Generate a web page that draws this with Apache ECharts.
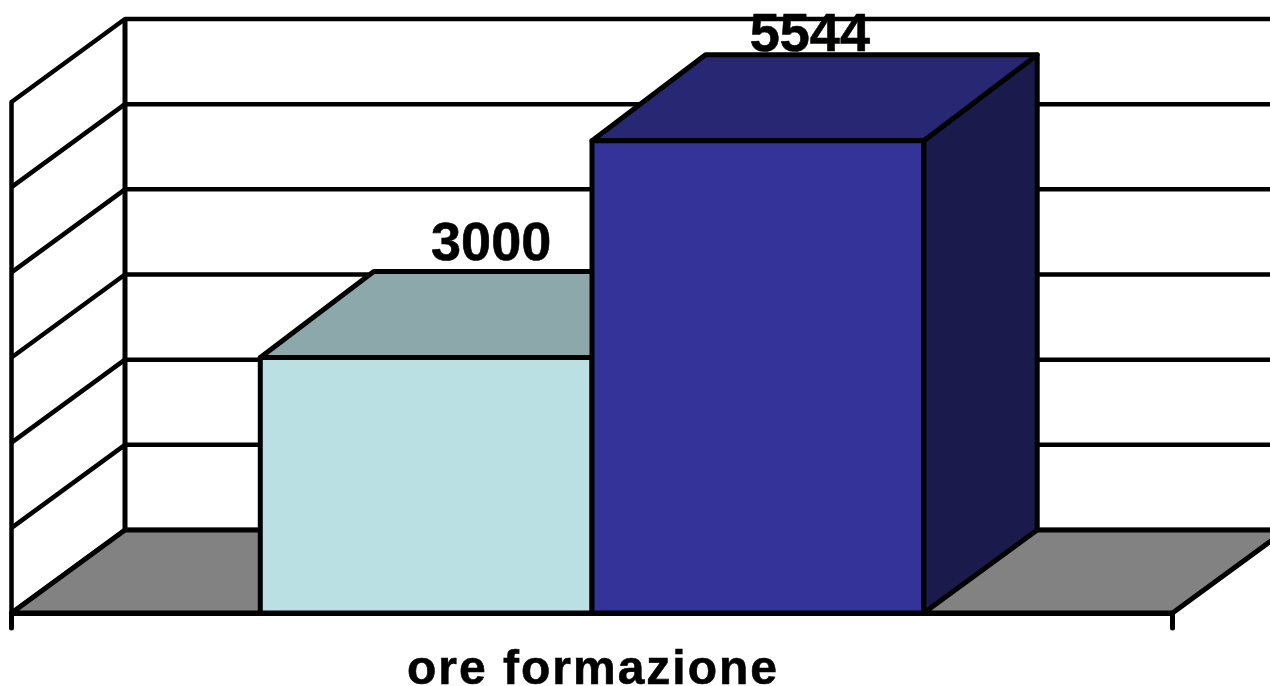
<!DOCTYPE html>
<html>
<head>
    <meta charset="utf-8">
    <title>ore formazione</title>
    <script src="https://cdn.jsdelivr.net/npm/echarts@6/dist/echarts.min.js"></script>
    <style>
        html, body, #main {
            padding: 0;
            margin: 0;
            height: 100%;
            width: 100%;
            background: #fff;
            overflow: hidden;
        }
    </style>
</head>
<body>
    <div id="main"></div>
    <script>
    // chart data
    var categories = ['ore formazione'];
    var valuesLight = [3000];
    var valuesDark = [5544];
    var yTicks = [0, 1000, 2000, 3000, 4000, 5000, 6000];

    // fake 3D depth of the box, in pixels
    var DEPTH_X = 113.5;
    var DEPTH_Y = 83;
    var ROOF_Y = 86;
    var LINE = 5;
    var FONT = '"Liberation Sans", Arial, sans-serif';

    var myChart = echarts.init(document.getElementById('main'), null, {renderer: 'canvas'});

    function poly(points, fill) {
        return {
            type: 'polygon',
            shape: {points: points},
            style: {fill: fill, stroke: '#000', lineWidth: LINE, lineJoin: 'round'}
        };
    }

    // floor and back wall verticals, drawn once
    function renderFloor(params, api) {
        var bottom = api.coord([0, 0]);
        var top = api.coord([0, yTicks[yTicks.length - 1]]);
        var band = api.size([1, 0])[0];
        var left = bottom[0] - band / 2;
        var right = bottom[0] + band / 2;
        var y0 = bottom[1];
        return {
            type: 'group',
            children: [
                poly([
                    [left, y0],
                    [right, y0],
                    [right + DEPTH_X, y0 - DEPTH_Y],
                    [left + DEPTH_X, y0 - DEPTH_Y]
                ], '#828282'),
                {
                    type: 'line',
                    shape: {x1: left + DEPTH_X, y1: y0 - DEPTH_Y, x2: left + DEPTH_X, y2: top[1] - DEPTH_Y},
                    style: {stroke: '#000', lineWidth: LINE}
                }
            ]
        };
    }

    // one gridline bent over the side wall and the back wall
    function renderGrid(params, api) {
        var p = api.coord([0, api.value(1)]);
        var band = api.size([1, 0])[0];
        var left = p[0] - band / 2;
        return {
            type: 'polyline',
            shape: {points: [
                [left, p[1]],
                [left + DEPTH_X, p[1] - DEPTH_Y],
                [left + band + DEPTH_X, p[1] - DEPTH_Y]
            ]},
            style: {fill: null, stroke: '#000', lineWidth: LINE - 0.5, lineJoin: 'round'}
        };
    }

    function makeBar(barIndex, front, roof, side, labelDx, labelDy) {
        return function (params, api) {
            var val = api.value(1);
            var top = api.coord([0, val]);
            var base = api.coord([0, 0]);
            var w = api.size([1, 0])[0] / 3.5;   // gap width 150%
            var x0 = top[0] + (barIndex - 1) * w;
            var x1 = x0 + w;
            var yT = top[1];
            var yB = base[1];
            return {
                type: 'group',
                children: [
                    poly([[x1, yT], [x1 + DEPTH_X, yT - ROOF_Y], [x1 + DEPTH_X, yB - DEPTH_Y], [x1, yB]], side),
                    poly([[x0, yT], [x0 + DEPTH_X, yT - ROOF_Y], [x1 + DEPTH_X, yT - ROOF_Y], [x1, yT]], roof),
                    poly([[x0, yT], [x1, yT], [x1, yB], [x0, yB]], front),
                    {
                        type: 'text',
                        style: {
                            text: String(val),
                            x: (x0 + x1) / 2 + labelDx,
                            y: yT + labelDy,
                            align: 'center',
                            verticalAlign: 'bottom',
                            font: 'bold 54px ' + FONT,
                            fill: '#000',
                            stroke: '#000',
                            lineWidth: 0.6
                        }
                    }
                ]
            };
        };
    }

    var option = {
        animation: false,
        backgroundColor: '#fff',
        grid: {left: 11.5, width: 1161, top: 102, bottom: 73, outerBoundsMode: 'none'},
        xAxis: {
            type: 'category',
            data: categories,
            axisLine: {lineStyle: {color: '#000', width: LINE}},
            axisTick: {show: true, length: 15, lineStyle: {color: '#000', width: LINE, cap: 'round'}},
            axisLabel: {
                margin: 34,
                // spaced out lettering, one rich token per character
                formatter: function (v) {
                    return v.split('').map(function (c) { return '{s|' + c + '}'; }).join('');
                },
                rich: {
                    s: {
                        fontFamily: FONT,
                        fontWeight: 'bold',
                        fontSize: 48,
                        color: '#000',
                        textBorderColor: '#000',
                        textBorderWidth: 0.6,
                        padding: [0, 1, 0, 1]
                    }
                }
            }
        },
        yAxis: {
            type: 'value',
            min: 0,
            max: 6000,
            interval: 1000,
            axisLine: {show: true, lineStyle: {color: '#000', width: LINE - 0.5}},
            axisTick: {show: false},
            axisLabel: {show: false},
            splitLine: {show: false}
        },
        series: [
            {
                type: 'custom',
                coordinateSystem: 'cartesian2d',
                renderItem: renderGrid,
                data: yTicks.map(function (t) { return [0, t]; }),
                z: 1
            },
            {
                type: 'custom',
                coordinateSystem: 'cartesian2d',
                renderItem: renderFloor,
                data: [[0, 0]],
                z: 2
            },
            {
                type: 'custom',
                name: 'light',
                coordinateSystem: 'cartesian2d',
                renderItem: makeBar(0, '#BBE0E3', '#8CA8AA', '#5E7072', 65, -85),
                data: [[0, valuesLight[0]]],
                z: 3
            },
            {
                type: 'custom',
                name: 'dark',
                coordinateSystem: 'cartesian2d',
                renderItem: makeBar(1, '#333399', '#272773', '#1A1A4D', 52, -78),
                data: [[0, valuesDark[0]]],
                z: 4
            }
        ]
    };

    myChart.setOption(option);
    </script>
</body>
</html>
